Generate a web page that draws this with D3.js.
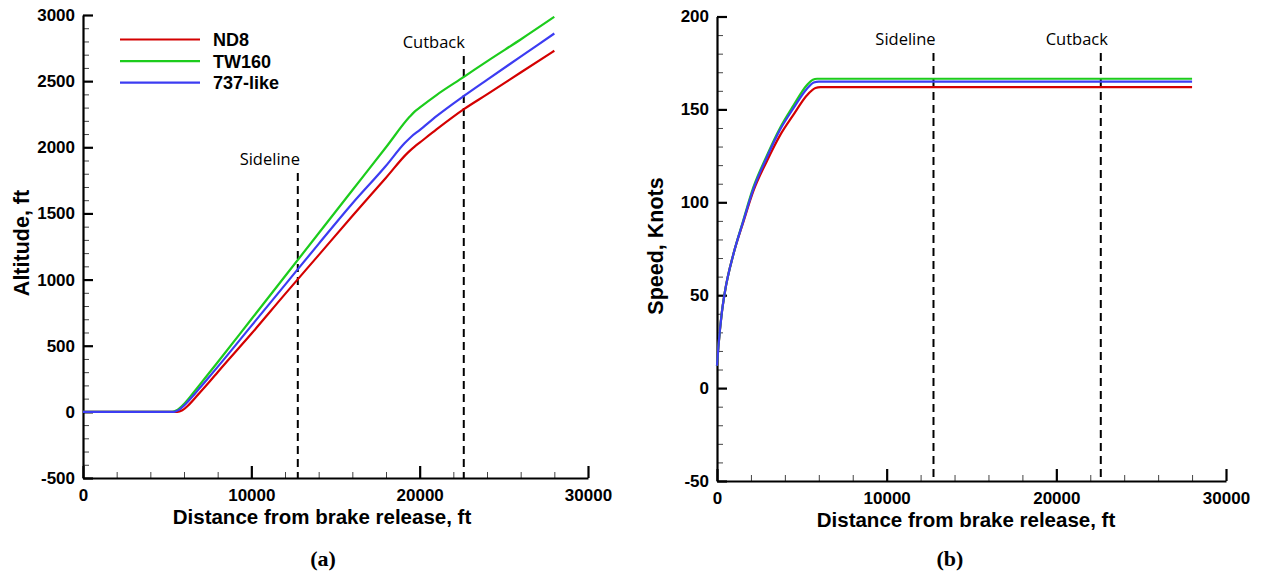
<!DOCTYPE html>
<html>
<head>
<meta charset="utf-8">
<script src="https://cdn.jsdelivr.net/npm/d3@7/dist/d3.min.js"></script>
<style>
  body { margin: 0; background: #fff; }
  text { fill: #000; }
</style>
</head>
<body>
<svg id="chart" width="1261" height="575"></svg>
<script>
// series
const seriesNames = ["ND8", "TW160", "737-like"];
const seriesColors = ["#d40000", "#1ccc1c", "#3c3cf2"];

// altitude (ft) vs distance from brake release (ft)
const altND8 = [[0,0],[5600,0],[5900,12],[6300,55],[6800,125],[7500,225],[8000,300],[10000,590],[12000,890],[14000,1185],[16000,1480],[18000,1770],[19300,1960],[19700,2005],[20000,2035],[21000,2135],[22650,2290],[24000,2400],[26000,2565],[28000,2730]];
const altTW160 = [[0,0],[5300,0],[5600,15],[6000,60],[6500,135],[7000,215],[8000,375],[10000,700],[12000,1025],[14000,1350],[16000,1675],[18000,2000],[19400,2230],[19700,2270],[20000,2300],[21000,2395],[22650,2534],[24000,2650],[26000,2815],[28000,2986]];
const alt737 = [[0,0],[5400,0],[5700,15],[6100,60],[6600,130],[7000,190],[8000,340],[10000,650],[12000,960],[14000,1270],[16000,1575],[18000,1860],[19100,2030],[19500,2080],[20000,2130],[21000,2235],[22650,2390],[24000,2510],[26000,2685],[28000,2860]];

// speed (knots) vs distance (ft)
const spdND8 = [[0,12],[80,22],[275,40],[470,52],[965,72],[1555,89.5],[2140,106],[2930,122],[3715,136],[4500,147],[5290,157.5],[5800,161.5],[6100,162],[28000,162]];
const spdTW160 = [[0,12],[80,22],[275,40],[470,52],[965,72],[1555,90.5],[2140,108],[2930,125],[3715,140],[4500,152],[5290,163],[5650,166],[5900,166.5],[28000,166.5]];
const spd737 = [[0,12],[80,22],[275,40],[470,52],[965,72],[1555,90],[2140,107],[2930,124],[3715,139],[4500,150.5],[5290,161],[5700,164.5],[6000,165],[28000,165]];

// event markers
const markerNames = ["Sideline", "Cutback"];
const markerDist = [12760, 22620];

// axes
const xTicks = [0, 10000, 20000, 30000];
const altTicks = [-500, 0, 500, 1000, 1500, 2000, 2500, 3000];
const spdTicks = [-50, 0, 50, 100, 150, 200];

const svg = d3.select("#chart");
const boldSans = "'Liberation Sans', Arial, sans-serif";

function drawPanel(cfg) {
  const x = d3.scaleLinear().domain([0, 30000]).range([cfg.x0, cfg.x1]);
  const y = d3.scaleLinear().domain(cfg.yDomain).range([cfg.yBottom, cfg.yTop]);
  const g = svg.append("g");

  // minor ticks
  const xMinor = d3.range(0, 30001, 2000).filter(v => v % 10000 !== 0);
  const yMinor = d3.range(cfg.yDomain[0], cfg.yDomain[1] + 0.1, cfg.yMinorStep)
    .filter(v => !cfg.yTicks.includes(v));
  g.append("g")
    .attr("transform", "translate(0," + cfg.yBottom + ")")
    .call(d3.axisBottom(x).tickValues(xMinor).tickFormat("").tickSize(-6).tickSizeOuter(0))
    .call(a => a.select(".domain").remove())
    .selectAll("line").attr("stroke", "#444").attr("stroke-width", 1);
  g.append("g")
    .attr("transform", "translate(" + cfg.x0 + ",0)")
    .call(d3.axisLeft(y).tickValues(yMinor).tickFormat("").tickSize(-6).tickSizeOuter(0))
    .call(a => a.select(".domain").remove())
    .selectAll("line").attr("stroke", "#444").attr("stroke-width", 1);

  // major axes
  const xAxis = g.append("g")
    .attr("transform", "translate(0," + cfg.yBottom + ")")
    .call(d3.axisBottom(x).tickValues(xTicks).tickSize(-12).tickSizeOuter(0).tickFormat(d => String(d)));
  const yAxis = g.append("g")
    .attr("transform", "translate(" + cfg.x0 + ",0)")
    .call(d3.axisLeft(y).tickValues(cfg.yTicks).tickSize(-10).tickSizeOuter(0).tickPadding(8).tickFormat(d => String(d)));
  [xAxis, yAxis].forEach(a => {
    a.attr("font-family", boldSans).attr("font-size", 17).attr("font-weight", "bold");
    a.select(".domain").attr("stroke", "#000").attr("stroke-width", 2.2);
    a.selectAll(".tick line").attr("stroke", "#000").attr("stroke-width", 2.2);
  });
  xAxis.selectAll(".tick text").attr("y", 11);

  // event markers
  markerDist.forEach((d, i) => {
    g.append("line")
      .attr("x1", x(d)).attr("x2", x(d))
      .attr("y1", cfg.markerTop[i] + 8).attr("y2", cfg.yBottom)
      .attr("stroke", "#000").attr("stroke-width", 2)
      .attr("stroke-dasharray", "8,5");
    g.append("text")
      .attr("x", x(d) + cfg.markerShift[i]).attr("y", cfg.markerTop[i])
      .attr("text-anchor", "middle")
      .attr("font-family", "'Open Sans', 'Noto Sans', sans-serif")
      .attr("font-size", 16.5)
      .text(markerNames[i]);
  });

  // lines
  const line = d3.line().x(d => x(d[0])).y(d => y(d[1])).curve(d3.curveMonotoneX);
  cfg.series.forEach((s, i) => {
    g.append("path")
      .datum(s)
      .attr("fill", "none")
      .attr("stroke", seriesColors[i])
      .attr("stroke-width", 2.2)
      .attr("d", line);
  });

  // titles
  g.append("text")
    .attr("x", cfg.xTitleX).attr("y", cfg.yBottom + 46)
    .attr("text-anchor", "middle")
    .attr("font-family", boldSans).attr("font-size", 20.5).attr("font-weight", "bold")
    .text("Distance from brake release, ft");
  g.append("text")
    .attr("transform", "translate(" + cfg.yTitleX + "," + cfg.yTitleY + ") rotate(-90)")
    .attr("text-anchor", "middle")
    .attr("font-family", boldSans).attr("font-size", 21.5).attr("font-weight", "bold")
    .text(cfg.yTitle);
  g.append("text")
    .attr("x", cfg.captionX).attr("y", 566)
    .attr("text-anchor", "middle")
    .attr("font-family", "'Liberation Serif', 'Times New Roman', serif")
    .attr("font-size", 22).attr("font-weight", "bold")
    .text(cfg.caption);

  return { x, y, g };
}

drawPanel({
  x0: 83, x1: 588, yTop: 15, yBottom: 478,
  yDomain: [-500, 3000], yTicks: altTicks, yMinorStep: 100,
  series: [altND8, altTW160, alt737],
  markerTop: [165, 48], markerShift: [-28, -30],
  yTitle: "Altitude, ft", yTitleX: 29, yTitleY: 243,
  xTitleX: 322, captionX: 323,
  caption: "(a)"
});

drawPanel({
  x0: 717, x1: 1226, yTop: 16.5, yBottom: 481,
  yDomain: [-50, 200], yTicks: spdTicks, yMinorStep: 10,
  series: [spdND8, spdTW160, spd737],
  markerTop: [45, 45], markerShift: [-28, -24],
  yTitle: "Speed, Knots", yTitleX: 663, yTitleY: 246,
  xTitleX: 966, captionX: 950,
  caption: "(b)"
});

// legend
const legend = svg.append("g");
seriesNames.forEach((name, i) => {
  const ly = 39.5 + i * 21.6;
  legend.append("line")
    .attr("x1", 120).attr("x2", 200).attr("y1", ly).attr("y2", ly)
    .attr("stroke", seriesColors[i]).attr("stroke-width", 2.2);
  legend.append("text")
    .attr("x", 213).attr("y", ly + 6.5)
    .attr("font-family", boldSans).attr("font-size", 18).attr("font-weight", "bold")
    .text(name);
});
</script>
</body>
</html>
